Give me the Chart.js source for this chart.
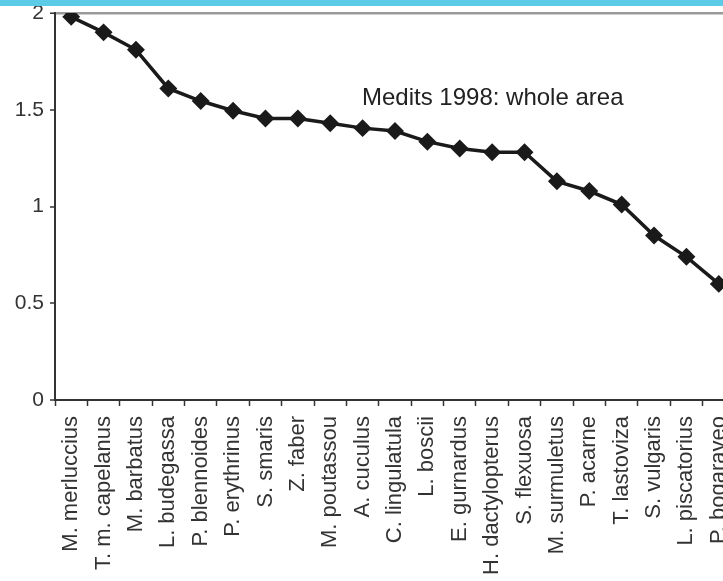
<!DOCTYPE html>
<html>
<head>
<meta charset="utf-8">
<script src="https://cdn.jsdelivr.net/npm/chart.js@4/dist/chart.umd.min.js"></script>
<style>
  html, body { margin: 0; padding: 0; background: #fff; overflow: hidden; }
  #wrap { position: relative; width: 723px; height: 581px; overflow: hidden; }
  #band { position: absolute; left: 0; top: 0; width: 723px; height: 6px; background: #5ccbe8; z-index: 2; }
  #cv { position: absolute; left: 0; top: 0; }
</style>
</head>
<body>
<div id="wrap">
  <div id="band"></div>
  <canvas id="cv" width="745" height="581"></canvas>
</div>
<script>
const species = ["M. merluccius", "T. m. capelanus", "M. barbatus", "L. budegassa", "P. blennoides",
  "P. erythrinus", "S. smaris", "Z. faber", "M. poutassou", "A. cuculus", "C. lingulatula",
  "L. boscii", "E. gurnardus", "H. dactylopterus", "S. flexuosa", "M. surmuletus", "P. acarne",
  "T. lastoviza", "S. vulgaris", "L. piscatorius", "P. bogaraveo"];
const values = [1.98, 1.90, 1.81, 1.61, 1.545, 1.495, 1.455, 1.455, 1.43, 1.405, 1.39,
  1.335, 1.30, 1.28, 1.28, 1.13, 1.08, 1.01, 0.85, 0.74, 0.60];
const yTicks = [0, 0.5, 1, 1.5, 2];
const chartTitle = "Medits 1998: whole area";

const titlePlugin = {
  id: 'innerTitle',
  afterDraw(chart) {
    const ctx = chart.ctx;
    ctx.save();
    ctx.font = '24px "Liberation Sans", Arial, sans-serif';
    ctx.fillStyle = '#222';
    ctx.textBaseline = 'alphabetic';
    ctx.textAlign = 'left';
    ctx.fillText(chartTitle, 362, 105);
    ctx.restore();
  }
};

new Chart(document.getElementById('cv'), {
  type: 'line',
  data: {
    labels: species,
    datasets: [{
      data: values,
      borderColor: '#1a1a1a',
      backgroundColor: '#1a1a1a',
      borderWidth: 3.5,
      pointStyle: 'rectRot',
      pointRadius: 6.5,
      pointBackgroundColor: '#1a1a1a',
      pointBorderColor: '#1a1a1a',
      tension: 0
    }]
  },
  options: {
    responsive: false,
    animation: false,
    layout: { padding: { top: 13, left: 0, right: 0, bottom: 0 } },
    plugins: { legend: { display: false }, tooltip: { enabled: false }, title: { display: false } },
    scales: {
      x: {
        offset: true,
        grid: {
          offset: true,
          drawOnChartArea: false,
          drawTicks: true,
          tickLength: 6,
          tickColor: '#333',
          tickWidth: 1.5
        },
        border: { display: true, color: '#333', width: 2 },
        ticks: {
          minRotation: 90,
          maxRotation: 90,
          autoSkip: false,
          padding: 10,
          color: '#333',
          font: { family: '"Liberation Sans", Arial, sans-serif', size: 22 }
        },
        afterFit(scale) {
          scale.height = 181;
          scale.paddingLeft = 0; scale.paddingRight = 0;
        }
      },
      y: {
        min: 0,
        max: 2,
        afterBuildTicks(scale) { scale.ticks = yTicks.map(v => ({ value: v })); },
        grid: {
          drawOnChartArea: true,
          color: (c) => (c.tick && c.tick.value === 2) ? '#9a9a9a' : 'rgba(0,0,0,0)',
          lineWidth: (c) => (c.tick && c.tick.value === 2) ? 2.5 : 0,
          drawTicks: true,
          tickLength: 5,
          tickColor: '#333',
          tickWidth: 1.5
        },
        border: { display: true, color: '#333', width: 2 },
        ticks: {
          padding: 6,
          color: '#333',
          font: { family: '"Liberation Sans", Arial, sans-serif', size: 21 },
          callback: (v) => String(v)
        },
        afterFit(scale) {
          scale.width = 55;
          scale.paddingTop = 0; scale.paddingBottom = 0;
        }
      }
    }
  },
  plugins: [titlePlugin]
});
</script>
</body>
</html>
